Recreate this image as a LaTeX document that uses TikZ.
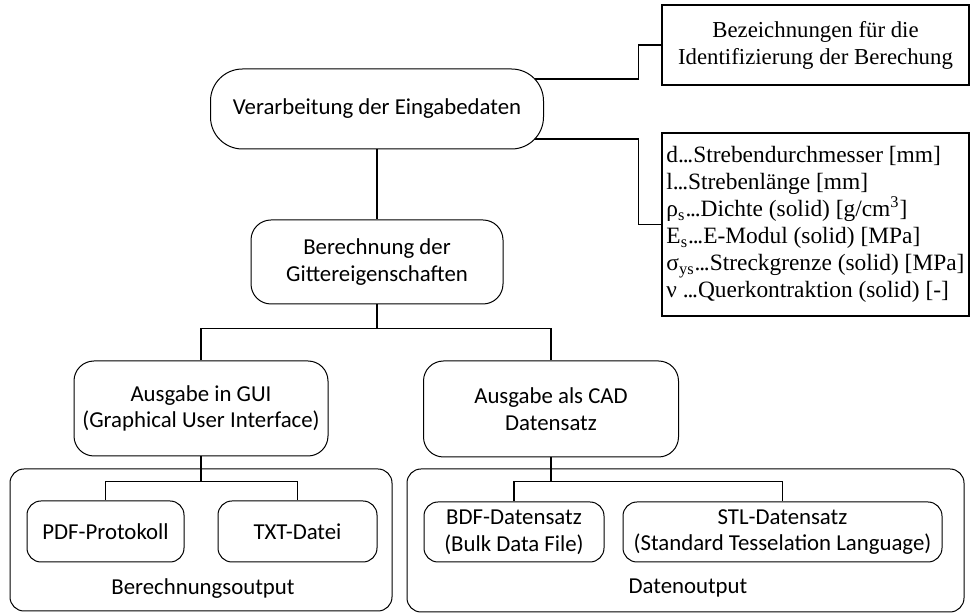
\documentclass[tikz,border=0pt]{standalone}
\usepackage{fontspec}
\setmainfont{Liberation Serif}
\newfontfamily\calibri{Carlito}
\usetikzlibrary{positioning, backgrounds}

% tight three dots between symbol and name
\newcommand{\tdots}{.\kern-0.6pt.\kern-0.6pt.}

\tikzset{
    procbox/.style={draw, rounded corners=10pt, fill=white, align=center, line width=0.5pt,
        font=\calibri\fontsize{11.4}{13.3}\selectfont},
    subbox/.style={procbox, rounded corners=7pt},
    infobox/.style={draw, fill=white, line width=0.6pt, inner xsep=1.5pt},
    groupbox/.style={draw, rounded corners=7pt, line width=0.5pt},
    grouplabel/.style={font=\calibri\fontsize{11.4}{13.3}\selectfont},
    link/.style={line width=0.8pt}
}

\begin{document}
\begin{tikzpicture}[x=0.5pt, y=-0.5pt]
    \useasboundingbox (0,0) rectangle (971,614);

    % output groups
    \node[groupbox, minimum width=191pt, minimum height=71pt] (grpcalc) at (201,540) {};
    \node[groupbox, minimum width=278.5pt, minimum height=71.5pt] (grpdata) at (685.5,540.5) {};
    \node[grouplabel] (lblcalc) at (203,589) {Berechnungsoutput};
    \node[grouplabel] (lbldata) at (688,588) {Datenoutput};

    % main chain
    \node[procbox, rounded corners=16pt, minimum width=166.5pt, minimum height=40pt] (input) at (377,109) {Verarbeitung der Eingabedaten};
    \node[procbox, minimum width=126pt, minimum height=42pt, below=35pt of input] (lattice) {Berechnung der\\Gittereigenschaften};

    \node[procbox, minimum width=127pt, minimum height=47.5pt] (gui) at (201,408.5) {Ausgabe in GUI\\(Graphical User Interface)};
    \node[procbox, minimum width=127.5pt, minimum height=48pt] (cad) at (551,409) {Ausgabe als CAD\\Datensatz};

    \node[subbox, minimum width=78.5pt, minimum height=30.5pt] (pdf) at (105.5,531.5) {PDF-Protokoll};
    \node[subbox, minimum width=79.5pt, minimum height=30.5pt] (txt) at (297.5,531.5) {TXT-Datei};
    \node[subbox, minimum width=90pt, minimum height=30pt] (bdf) at (514,532) {BDF-Datensatz\\(Bulk Data File)};
    \node[subbox, minimum width=159.5pt, minimum height=30pt] (stl) at (782.5,532) {STL-Datensatz\\(Standard Tesselation Language)};

    % side notes
    \node[infobox, align=center, minimum width=153.5pt, minimum height=40pt,
        font=\fontsize{11.4}{13.5}\selectfont] (names) at (815.5,45) {Bezeichnungen für die\\Identifizierung der Berechung};
    \node[infobox, align=left, minimum width=153.5pt, minimum height=91.5pt,
        font=\fontsize{11.7}{13.5}\selectfont] (params) at (815.5,224.5) {%
        d\tdots Strebendurchmesser [mm]\\
        l\tdots Strebenlänge [mm]\\
        ρ\textsubscript{s}\tdots Dichte (solid) [g/cm\textsuperscript{3}]\\
        E\textsubscript{s}\tdots E-Modul (solid) [MPa]\\
        σ\textsubscript{ys}\tdots Streckgrenze (solid) [MPa]\\
        ν \tdots Querkontraktion (solid) [-]};

    \begin{scope}[on background layer]
        \draw[link] ([yshift=15pt]input.center) -| ([xshift=-11.5pt]names.west) -- (names.west);
        \draw[link] ([yshift=-15pt]input.center) -| ([xshift=-11.5pt]params.west) -- (params.west);
        \draw[link] (input) -- (lattice);

        \draw[link] (lattice.south) -- ++(0,-12pt) coordinate (fork1);
        \draw[link] (fork1) -| (gui.north);
        \draw[link] (fork1) -| (cad.north);

        \draw[link] (gui.south) -- ++(0,-12.5pt) coordinate (fork2);
        \draw[link] (fork2) -| (pdf.north);
        \draw[link] (fork2) -| (txt.north);

        \draw[link] (cad.south) -- ++(0,-12pt) coordinate (fork3);
        \draw[link] (fork3) -| (bdf.north);
        \draw[link] (fork3) -| (stl.north);
    \end{scope}
\end{tikzpicture}
\end{document}
